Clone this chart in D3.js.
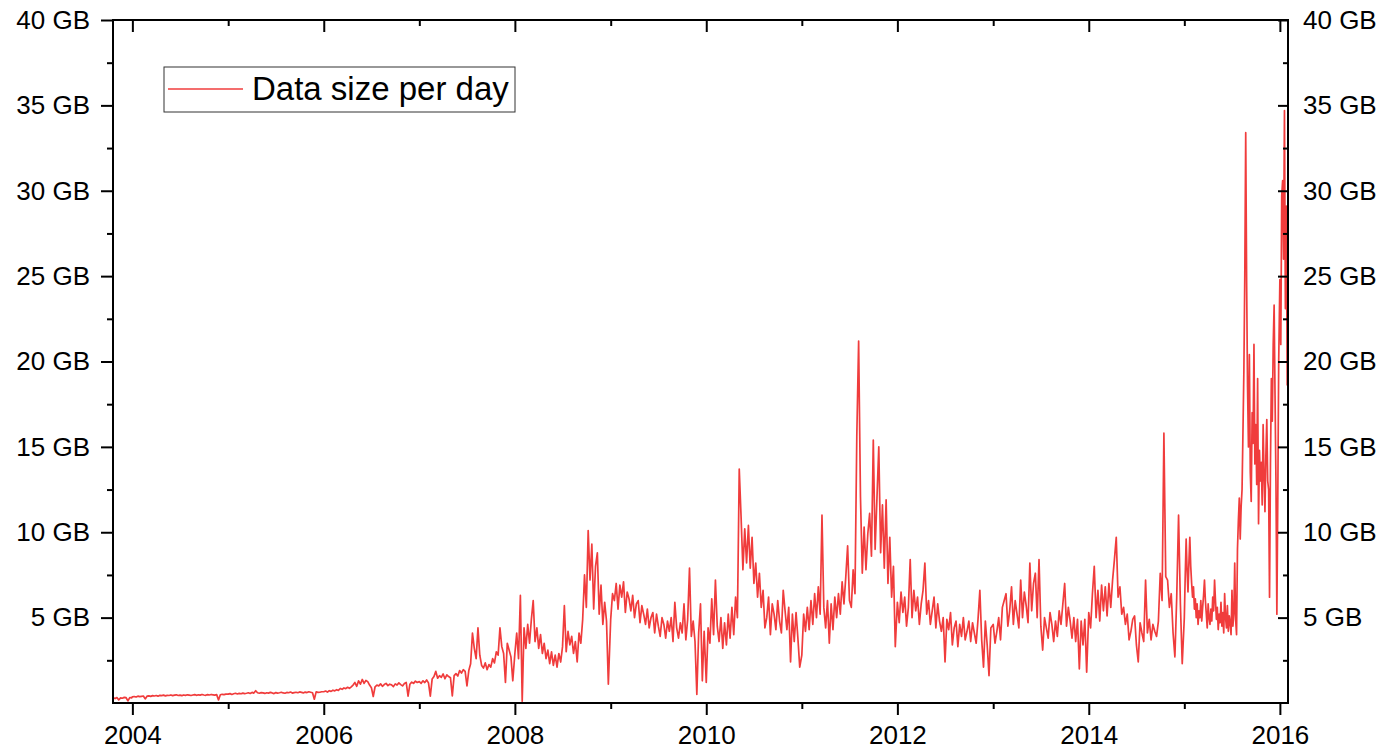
<!DOCTYPE html>
<html>
<head>
<meta charset="utf-8">
<script src="https://cdn.jsdelivr.net/npm/d3@7"></script>
<style>
  body { margin: 0; background: #fff; }
  svg { display: block; font-family: "Liberation Sans", Arial, sans-serif; }
  .axis line { stroke: #000; stroke-width: 2; }
  .axis path { display: none; }
  .axis text { font-size: 26px; fill: #000; }
</style>
</head>
<body>
<div id="chart"></div>
<script>
// daily data size (GB); weekly samples, 3.5-day samples from 2015
const v2003 = [0.30,0.26,0.32,0.18,0.30,0.28,0.33,0.31,0.12,0.32,0.30];
const v2004 = [0.36,0.38,0.35,0.40,0.37,0.39,0.41,0.24,0.40,0.42,
    0.39,0.43,0.41,0.44,0.40,0.45,0.43,0.46,0.42,0.45,
    0.44,0.47,0.43,0.46,0.48,0.44,0.46,0.43,0.47,0.45,
    0.48,0.46,0.44,0.47,0.49,0.45,0.48,0.46,0.50,0.47,
    0.45,0.49,0.47,0.50,0.48,0.46,0.49,0.18,0.48,0.51,
    0.49,0.52];
const v2005 = [0.52,0.55,0.50,0.54,0.57,0.53,0.56,0.54,0.58,0.55,
    0.57,0.60,0.56,0.62,0.58,0.72,0.60,0.57,0.61,0.59,
    0.56,0.60,0.58,0.62,0.59,0.55,0.61,0.58,0.60,0.63,
    0.59,0.57,0.62,0.60,0.64,0.58,0.61,0.63,0.60,0.65,
    0.62,0.59,0.64,0.61,0.66,0.63,0.60,0.22,0.65,0.62,
    0.63,0.66];
const v2006 = [0.66,0.70,0.64,0.72,0.68,0.75,0.71,0.78,0.74,0.85,
    0.80,0.88,0.84,0.92,0.86,0.95,1.05,1.20,0.98,1.30,
    1.10,1.38,1.15,1.32,1.25,1.05,0.90,0.38,0.95,1.05,
    1.00,1.12,0.98,1.08,1.15,1.02,1.10,1.06,0.96,1.12,
    1.05,1.18,1.08,1.00,1.14,1.20,0.40,1.10,1.22,1.15,
    1.28,1.20];
const v2007 = [1.25,1.15,1.30,1.20,1.35,1.18,0.40,1.40,1.55,1.85,
    1.45,1.60,1.50,1.70,1.42,1.65,1.55,1.48,0.42,1.60,
    1.72,1.58,1.90,1.75,1.95,1.85,1.00,1.90,2.30,4.10,
    3.20,2.60,4.40,2.80,2.20,2.05,2.35,1.95,2.25,2.10,
    2.60,2.35,3.00,2.80,4.40,3.30,2.90,1.20,3.50,3.10,
    2.70,1.30];
const v2008 = [2.9,4.1,2.6,6.3,0.1,4.4,3.2,4.6,3.5,4.9,
    6.0,3.6,4.4,3.2,4.0,2.9,3.5,2.6,3.1,2.3,
    3.0,2.2,2.8,2.1,2.9,2.4,3.3,5.7,3.0,4.2,
    3.4,3.9,2.9,3.6,2.4,4.1,3.5,4.9,7.5,5.6,
    10.1,7.2,9.3,5.5,8.0,8.8,5.2,6.9,4.6,5.9,
    4.8,1.1];
const v2009 = [4.9,6.4,6.0,7.0,5.5,6.9,6.2,7.1,5.3,6.5,
    6.1,5.4,6.3,5.0,5.8,6.0,4.7,5.7,5.2,4.6,
    5.5,4.4,5.0,5.3,4.1,5.2,4.5,3.9,5.0,4.6,
    3.8,4.8,4.2,5.0,3.6,5.9,4.4,3.8,4.7,4.1,
    5.8,3.7,4.9,7.9,3.9,4.8,3.6,0.5,4.1,5.8,
    1.3,4.2];
const v2010 = [1.2,4.4,3.5,6.1,4.0,7.2,4.5,3.6,5.0,3.2,
    4.7,3.4,5.2,3.8,5.6,4.0,6.2,5.0,13.7,10.9,
    7.8,10.2,8.2,10.4,7.9,9.7,7.0,8.2,6.2,7.6,
    5.6,6.6,4.4,5.0,6.2,4.0,5.8,5.2,4.3,6.0,
    4.8,4.1,6.6,5.4,4.3,5.6,2.4,5.2,3.6,5.3,
    3.8,2.1];
const v2011 = [2.8,5.2,4.2,5.6,4.3,6.0,4.6,6.4,5.0,6.8,
    5.2,11.0,5.6,4.4,6.0,3.5,5.8,4.3,6.2,5.0,
    6.4,5.2,7.1,5.8,7.4,9.2,6.0,5.6,7.8,6.4,
    15.6,21.2,12.1,7.6,10.3,7.8,9.9,11.1,8.6,15.4,
    9.0,12.0,15.0,8.8,11.6,7.9,11.9,7.0,9.7,6.2,
    8.0,3.3];
const v2012 = [5.9,4.7,6.5,5.3,6.2,4.5,5.6,8.4,5.0,6.6,
    5.4,6.2,4.6,5.8,6.6,8.2,5.2,6.0,4.6,5.4,
    6.2,4.4,5.8,4.8,4.2,5.0,2.4,4.9,4.3,5.3,
    3.4,4.4,4.8,3.3,4.6,3.9,5.0,3.7,4.2,4.8,
    3.6,4.7,4.1,3.5,4.9,6.6,3.7,2.1,4.8,3.4,
    1.6,4.4];
const v2013 = [4.6,3.5,4.2,5.0,3.7,5.6,6.0,6.4,4.5,5.4,
    6.8,4.6,6.0,5.2,4.4,7.2,5.0,6.5,5.7,4.7,
    8.2,5.4,7.0,7.6,5.0,8.4,4.5,3.1,5.0,4.4,
    3.8,5.3,4.6,3.6,4.8,3.9,5.4,4.6,5.8,7.0,
    4.5,5.6,4.8,3.8,5.0,3.6,4.9,2.0,4.8,3.4,
    4.9,1.8];
const v2014 = [5.3,4.4,6.4,8.0,5.0,6.6,4.8,6.9,5.4,6.8,
    5.1,7.0,5.6,7.2,8.4,9.7,6.2,6.8,5.2,5.6,
    4.6,5.2,3.7,4.2,4.9,5.1,3.4,2.4,4.7,4.1,
    3.6,7.2,4.1,4.9,3.7,4.6,4.2,3.9,4.8,7.6,
    6.0,15.8,7.4,7.2,5.6,6.4,4.1,2.7,6.2,11.0,
    5.8,2.3];
const v2015 = [5.0,7.5,9.6,7.8,6.5,8.2,9.7,8.0,7.0,6.2,
    6.8,5.5,6.1,5.0,5.8,4.6,5.4,5.0,6.0,4.8,
    5.6,6.3,7.2,6.0,5.2,4.4,5.8,5.0,4.6,5.5,
    4.8,6.2,5.4,7.2,6.0,4.9,5.6,4.3,5.2,4.7,
    5.9,4.5,5.3,4.1,6.4,5.0,4.4,5.7,4.2,5.1,
    4.7,4.0,6.6,4.5,5.2,8.2,4.9,4.0,9.0,10.7,
    12.0,9.6,11.5,12.5,15.9,19.5,25.1,33.4,24.6,18.5,
    15.0,20.4,13.5,11.8,17.0,15.2,21.0,14.0,16.3,12.8,
    19.0,10.5,14.8,13.0,14.1,11.6,16.3,13.4,11.2,14.5,
    16.6,13.0,12.5,6.2,14.0,19.0,16.5,21.0,23.3,18.0,
    13.0,5.2,12.0,20.0];
const v2016 = [24.8,21.0,29.7,30.6,26.0,34.7,23.1,29.1,18.6];

const segments = [
    {start: "2003-10-20", stepDays: 7, values: v2003},
    {start: "2004-01-01", stepDays: 7, values: v2004},
    {start: "2005-01-01", stepDays: 7, values: v2005},
    {start: "2006-01-01", stepDays: 7, values: v2006},
    {start: "2007-01-01", stepDays: 7, values: v2007},
    {start: "2008-01-01", stepDays: 7, values: v2008},
    {start: "2009-01-01", stepDays: 7, values: v2009},
    {start: "2010-01-01", stepDays: 7, values: v2010},
    {start: "2011-01-01", stepDays: 7, values: v2011},
    {start: "2012-01-01", stepDays: 7, values: v2012},
    {start: "2013-01-01", stepDays: 7, values: v2013},
    {start: "2014-01-01", stepDays: 7, values: v2014},
    {start: "2015-01-01", stepDays: 3.5, values: v2015},
    {start: "2016-01-01", stepDays: 3.5, values: v2016}
];

const majorYears = [2004, 2006, 2008, 2010, 2012, 2014, 2016];
const minorYears = [2005, 2007, 2009, 2011, 2013, 2015];
const gbTicks = [5, 10, 15, 20, 25, 30, 35, 40];
const gbMinor = [2.5, 7.5, 12.5, 17.5, 22.5, 27.5, 32.5, 37.5];
const seriesName = "Data size per day";

const parse = d3.utcParse("%Y-%m-%d");
let data = [];
for (let s of segments) {
    let t0 = parse(s.start).getTime();
    s.values.forEach((v, k) => {
        data.push({date: new Date(t0 + k * s.stepDays * 864e5), value: v});
    });
}

const W = 1383, H = 751;
const margin = {top: 20, right: 95, bottom: 48, left: 113};
const width = W - margin.left - margin.right;
const height = H - margin.top - margin.bottom;
const lineColor = "#f03c3c";

const svg = d3.select("#chart").append("svg")
    .attr("width", W)
    .attr("height", H);

const g = svg.append("g")
    .attr("transform", "translate(" + margin.left + "," + margin.top + ")");

const x = d3.scaleUtc()
    .domain([parse("2003-10-19"), parse("2016-02-01")])
    .range([0, width]);
const y = d3.scaleLinear().domain([0, 40]).range([height, 0]);

const yearDate = (yr) => Date.UTC(yr, 0, 1);

// series
g.append("path")
    .datum(data)
    .attr("fill", "none")
    .attr("stroke", lineColor)
    .attr("stroke-width", 1.7)
    .attr("stroke-linejoin", "round")
    .attr("d", d3.line().x(d => x(d.date)).y(d => y(d.value)));

// bottom axis (ticks out)
g.append("g").attr("class", "axis")
    .attr("transform", "translate(0," + height + ")")
    .call(d3.axisBottom(x).tickValues(majorYears.map(yearDate))
        .tickSize(12).tickPadding(11).tickFormat(d3.utcFormat("%Y")));
g.append("g").attr("class", "axis")
    .attr("transform", "translate(0," + height + ")")
    .call(d3.axisBottom(x).tickValues(minorYears.map(yearDate))
        .tickSize(6).tickFormat(""));

// top axis (ticks in)
g.append("g").attr("class", "axis")
    .call(d3.axisTop(x).tickValues(majorYears.map(yearDate))
        .tickSize(-12).tickFormat(""));
g.append("g").attr("class", "axis")
    .call(d3.axisTop(x).tickValues(minorYears.map(yearDate))
        .tickSize(-6).tickFormat(""));

// left axis (ticks out)
g.append("g").attr("class", "axis")
    .call(d3.axisLeft(y).tickValues(gbTicks)
        .tickSize(12).tickPadding(11).tickFormat(d => d + " GB"));
g.append("g").attr("class", "axis")
    .call(d3.axisLeft(y).tickValues(gbMinor).tickSize(6).tickFormat(""));

// right axis (ticks in, labels out)
g.append("g").attr("class", "axis")
    .attr("transform", "translate(" + width + ",0)")
    .call(d3.axisRight(y).tickValues(gbTicks)
        .tickSize(-10).tickPadding(15).tickFormat(d => d + " GB"));
g.append("g").attr("class", "axis")
    .attr("transform", "translate(" + width + ",0)")
    .call(d3.axisRight(y).tickValues(gbMinor).tickSize(-5).tickFormat(""));

// frame
g.append("rect")
    .attr("width", width)
    .attr("height", height)
    .attr("fill", "none")
    .attr("stroke", "#000")
    .attr("stroke-width", 2);

// legend
const legend = g.append("g").attr("transform", "translate(51,47)");
legend.append("rect")
    .attr("width", 351).attr("height", 45)
    .attr("fill", "#fff").attr("stroke", "#333").attr("stroke-width", 1);
legend.append("line")
    .attr("x1", 4).attr("x2", 79).attr("y1", 22).attr("y2", 22)
    .attr("stroke", lineColor).attr("stroke-width", 1.3);
legend.append("text")
    .attr("x", 88).attr("y", 33)
    .style("font-size", "33px")
    .text(seriesName);
</script>
</body>
</html>
